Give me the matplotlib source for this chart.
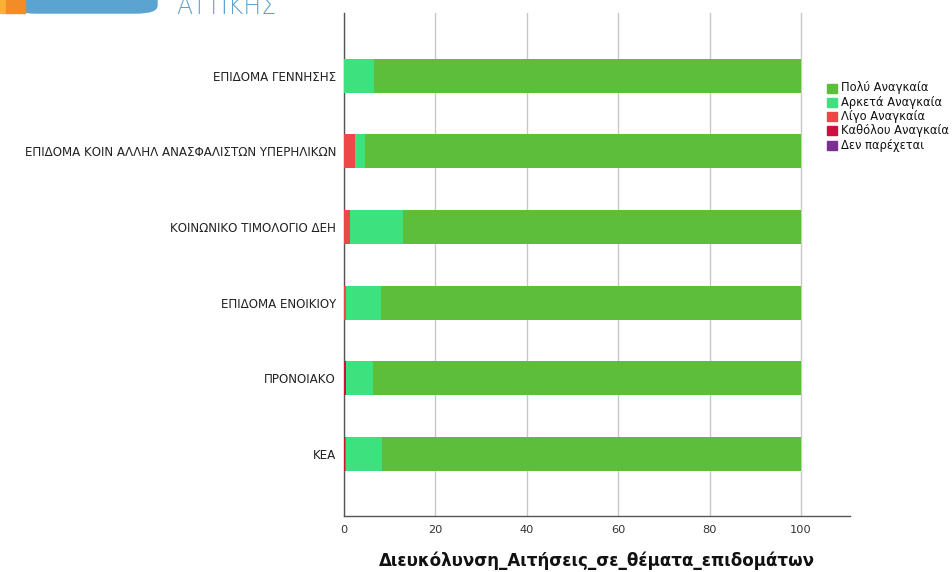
import matplotlib
matplotlib.use("Agg")
import matplotlib.pyplot as plt
from matplotlib.patches import Rectangle, FancyBboxPatch
import numpy as np

plt.rcParams['font.family'] = ['DejaVu Sans']

categories = ['ΕΠΙΔΟΜΑ ΓΕΝΝΗΣΗΣ',
              'ΕΠΙΔΟΜΑ ΚΟΙΝ ΑΛΛΗΛ ΑΝΑΣΦΑΛΙΣΤΩΝ ΥΠΕΡΗΛΙΚΩΝ',
              'ΚΟΙΝΩΝΙΚΟ ΤΙΜΟΛΟΓΙΟ ΔΕΗ',
              'ΕΠΙΔΟΜΑ ΕΝΟΙΚΙΟΥ',
              'ΠΡΟΝΟΙΑΚΟ',
              'ΚΕΑ']
den_parexetai = [0.0, 0.0, 0.0, 0.0, 0.0, 0.0]
katholou = [0.0, 0.0, 0.0, 0.0, 0.4, 0.3]
ligo = [0.0, 2.4, 1.3, 0.4, 0.0, 0.2]
arketa = [6.5, 2.3, 11.7, 7.7, 5.9, 7.8]
poly = [93.5, 95.3, 87.0, 91.9, 93.7, 91.7]

series_names = ['Πολύ Αναγκαία', 'Αρκετά Αναγκαία', 'Λίγο Αναγκαία',
                'Καθόλου Αναγκαία', 'Δεν παρέχεται']
colors = ['#5CBE3B', '#3DE27E', '#EE4747', '#D0103C', '#7B2F91']
xticks = [0, 20, 40, 60, 80, 100]
xlabel = 'Διευκόλυνση_Αιτήσεις_σε_θέματα_επιδομάτων'

W, H = 953, 572
fig = plt.figure(figsize=(W/100, H/100), dpi=100)
ax = fig.add_axes([344/W, 56/H, (850-344)/W, (516-13)/H])

y = np.arange(len(categories))
stack_order = [den_parexetai, katholou, ligo, arketa, poly]
stack_colors = [colors[4], colors[3], colors[2], colors[1], colors[0]]
left = np.zeros(len(categories))
for vals, c in zip(stack_order, stack_colors):
    v = np.array(vals)
    ax.barh(y, v, left=left, height=0.45, color=c, zorder=3, linewidth=0)
    left += v

ax.set_xlim(0, 110.7)
ax.set_ylim(5.82, -0.83)
ax.set_yticks(y)
ax.set_yticklabels(categories, fontsize=8.6, color='#222222')
ax.set_xticks(xticks)
ax.set_xticklabels([str(t) for t in xticks], fontsize=8.2, color='#333333')
ax.tick_params(axis='y', length=0, pad=5.8)
ax.tick_params(axis='x', length=0, pad=6.5)
ax.xaxis.grid(True, color='#C8C8C8', linewidth=1, zorder=0)
ax.set_axisbelow(True)
for s in ['top', 'right']:
    ax.spines[s].set_visible(False)
for s in ['left', 'bottom']:
    ax.spines[s].set_color('#555555')
    ax.spines[s].set_linewidth(1)
ax.set_xlabel(xlabel, fontsize=12, fontweight='bold', color='#111111', va='center')
ax.xaxis.set_label_coords(0.5, -(561 - 516) / (516 - 13))

# legend (manual placement to match the reference spacing)
for i, (name, c) in enumerate(zip(series_names, colors)):
    yc = 88 + 14.3 * i
    fig.patches.append(Rectangle((827/W, 1 - (yc + 4.5)/H), 10/W, 9/H,
                                 transform=fig.transFigure, color=c))
    fig.text(841/W, 1 - yc/H, name, fontsize=8.3, color='#111111',
             va='center', ha='left')

# header decorations (cropped logo)
fig.patches.append(FancyBboxPatch((15/W, 1 - 13/H), 142/W, 20/H,
                                  boxstyle='round,pad=0,rounding_size=0.022',
                                  transform=fig.transFigure, color='#5BA3D0', zorder=0,
                                  mutation_aspect=H/W))
fig.patches.append(Rectangle((0, 1 - 13/H), 6/W, 13/H, transform=fig.transFigure,
                             color='#F9B233', zorder=1))
fig.patches.append(Rectangle((6/W, 1 - 13/H), 19/W, 13/H, transform=fig.transFigure,
                             color='#F28C28', zorder=1))
fig.text(176/W, 1 - 14/H, 'ΑΤΤΙΚΗΣ', fontsize=17, color='#5BA3D0',
         va='baseline', ha='left', fontweight='light')

fig.savefig('out.png', dpi=100)
